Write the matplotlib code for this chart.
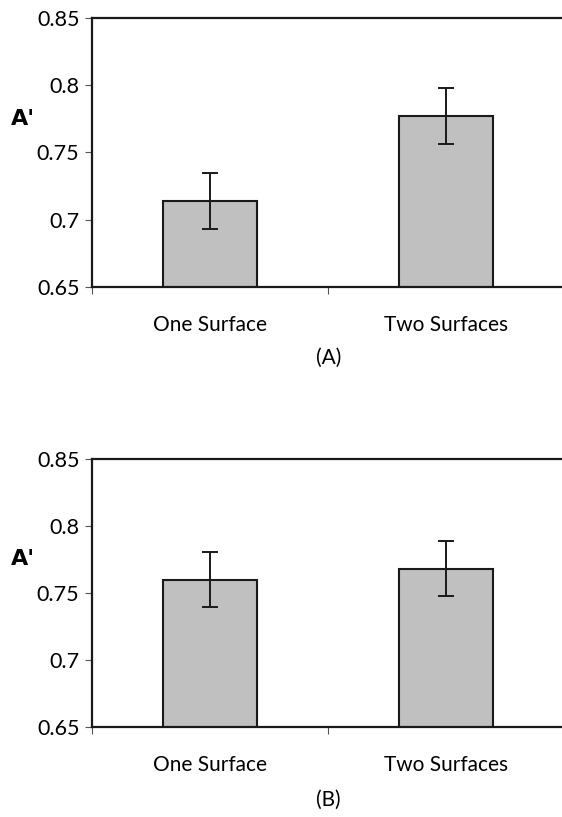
import matplotlib
matplotlib.use("Agg")
import matplotlib.pyplot as plt
import numpy as np

# data
categories = ["One Surface", "Two Surfaces"]
means_a = [0.714, 0.777]
errs_a = [0.0207, 0.0207]
means_b = [0.760, 0.768]
errs_b = [0.0205, 0.0205]
yticks = [0.65, 0.7, 0.75, 0.8, 0.85]
ytick_labels = ["0.65", "0.7", "0.75", "0.8", "0.85"]
panel_labels = ["(A)", "(B)"]

plt.rcParams['font.family'] = ['Lato', 'DejaVu Sans']

fig = plt.figure(figsize=(5.62, 8.17), dpi=100)

# axes boxes in figure fractions (left, bottom, width, height)
boxes = [[0.1637, 0.6487, 0.84, 0.3293],
         [0.1637, 0.1102, 0.84, 0.3280]]
label_y = [0.562, 0.021]

def draw_panel(ax, means, errs):
	x = np.arange(len(categories))
	ax.bar(x, means, width=0.4, color="#c0c0c0", edgecolor="#1a1a1a", linewidth=1.5, zorder=2)
	ax.errorbar(x, means, yerr=errs, fmt="none", ecolor="#1a1a1a", elinewidth=1.4,
		capsize=6, capthick=1.4, zorder=3)
	ax.set_xlim(-0.5, len(categories) - 0.5)
	ax.set_ylim(0.65, 0.85)
	ax.set_yticks(yticks)
	ax.set_yticklabels(ytick_labels, fontsize=15.5)
	# major ticks at the category boundaries, labels on minor ticks
	ax.set_xticks(np.arange(-0.5, len(categories), 1.0))
	ax.set_xticklabels([])
	ax.set_xticks(x, minor=True)
	ax.set_xticklabels(categories, minor=True, fontsize=15)
	ax.tick_params(axis="x", which="minor", length=0, pad=20)
	ax.tick_params(axis="x", which="major", length=5, width=0.8, color="#555555", direction="out")
	ax.tick_params(axis="y", length=5, width=0.8, color="#555555", direction="out", pad=4)
	for side in ["left", "bottom", "top", "right"]:
		ax.spines[side].set_linewidth(1.6)
		ax.spines[side].set_color("#1a1a1a")
	ax.text(-0.172, 0.625, "A'", transform=ax.transAxes, fontsize=16, fontweight="heavy",
		family="DejaVu Sans", ha="left", va="center")

all_means = [means_a, means_b]
all_errs = [errs_a, errs_b]
for i in range(2):
	ax = fig.add_axes(boxes[i])
	draw_panel(ax, all_means[i], all_errs[i])
	fig.text(0.585, label_y[i], panel_labels[i], fontsize=15, ha="center", va="center")

fig.savefig("out.png", dpi=100)
